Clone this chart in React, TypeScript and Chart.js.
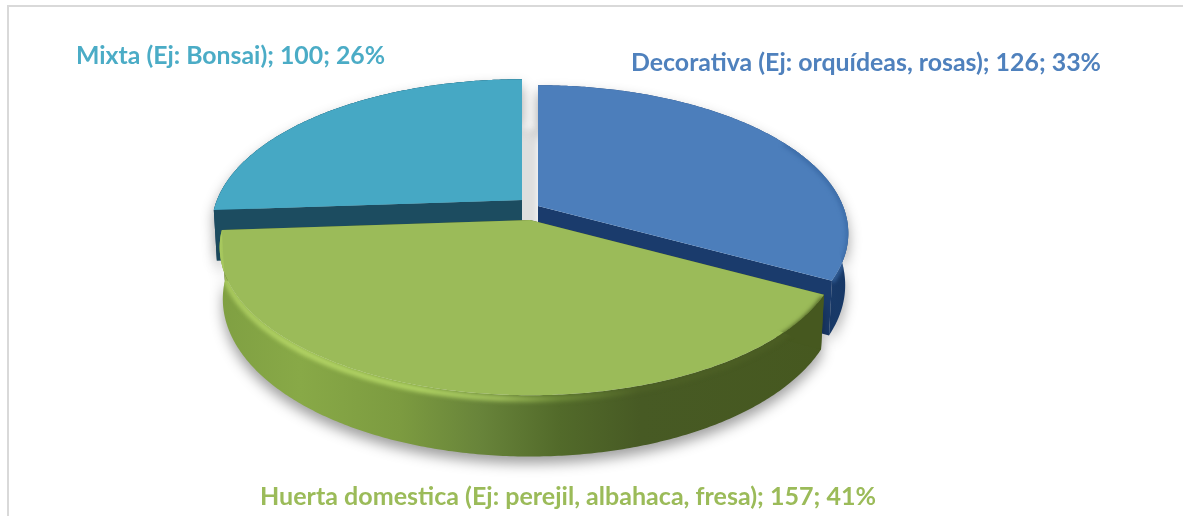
import React, { useEffect, useRef } from "react";
import { Chart, registerables } from "chart.js";

Chart.register(...registerables);

const categories = ["Decorativa (Ej: orquídeas, rosas)", "Huerta domestica (Ej: perejil, albahaca, fresa)", "Mixta (Ej: Bonsai)"];
const seriesValues = [126, 157, 100];
const sliceColors = ["#4c7ebb", "#9bbb59", "#46a8c4"];
const labelColors = ["#4f81bd", "#9bbb59", "#4bacc6"];

// layout of the tilted pie (not data)
const SHIFT: [number, number][] = [[-53.5, -52], [-61.5, -38], [-69.5, -58]];
const LABEL_BOX = [
  { x: 631, y: 63, w: 470 },
  { x: 260, y: 497, w: 616 },
  { x: 76, y: 56, w: 309 },
];
const K = 0.184;
const RX = 305 / 258;
const RY = 143 / 258;
const DEPTH = 50;
const DRAW_ORDER = [2, 0, 1];

const pie3d = {
  id: "pie3d",
  beforeDatasetsDraw(chart: any) {
    const ctx: CanvasRenderingContext2D = chart.ctx;
    const arcs = chart.getDatasetMeta(0).data;
    const proj = (i: number, a: number, r: number, d: number): [number, number] => {
      const arc = arcs[i];
      const X = r * Math.cos(a);
      const Y = r * Math.sin(a);
      const s = 1 / (1 - K * Y);
      return [
        arc.x + SHIFT[i][0] + arc.outerRadius * RX * X * s * (1 - d * 0.0002),
        arc.y + SHIFT[i][1] + arc.outerRadius * RY * Y * s + d * s,
      ];
    };
    const arcPts = (i: number, a0: number, a1: number, d: number) => {
      const n = Math.max(2, Math.ceil(Math.abs(a1 - a0) / 0.01));
      const pts: [number, number][] = [];
      for (let j = 0; j <= n; j++) pts.push(proj(i, a0 + ((a1 - a0) * j) / n, 1, d));
      return pts;
    };
    const poly = (pts: [number, number][]) => {
      ctx.beginPath();
      pts.forEach((p, j) => (j ? ctx.lineTo(p[0], p[1]) : ctx.moveTo(p[0], p[1])));
      ctx.closePath();
    };
    const line = (pts: [number, number][]) => {
      ctx.beginPath();
      pts.forEach((p, j) => (j ? ctx.lineTo(p[0], p[1]) : ctx.moveTo(p[0], p[1])));
    };
    const hGrad = (stops: [number, string][]) => {
      const g = ctx.createLinearGradient(215, 0, 850, 0);
      stops.forEach(([x, c]) => g.addColorStop((x - 215) / 635, c));
      return g;
    };
    const wallFill = [
      hGrad([[215, "#1a3f70"], [780, "#1d4277"], [850, "#173764"]]),
      hGrad([[215, "#7f9f42"], [300, "#88a947"], [400, "#7c9b40"], [480, "#68843a"], [560, "#526a2a"], [640, "#475a24"], [850, "#46581f"]]),
      hGrad([[215, "#163f62"], [230, "#1b4a5e"], [850, "#1b4a5e"]]),
    ];
    const cutFill = ["#1a3b6c", "#46581f", "#1c4c60"];

    ctx.save();
    for (const i of DRAW_ORDER) {
      const arc = arcs[i];
      const a0 = arc.startAngle;
      const a1 = arc.endAngle;
      const topEdge = arcPts(i, a0, a1, 0);
      const botEdge = arcPts(i, a0, a1, DEPTH).reverse();
      const apexT = proj(i, a0, 0, 0);
      const apexB = proj(i, a0, 0, DEPTH);

      // cast shadow of the back slice into the gap
      if (i === 2) {
        ctx.save();
        ctx.shadowColor = "rgba(0,0,0,0.13)";
        ctx.shadowBlur = 6;
        ctx.shadowOffsetX = 16;
        ctx.shadowOffsetY = 50;
        ctx.fillStyle = sliceColors[i];
        poly([apexT, ...topEdge]);
        ctx.fill();
        ctx.restore();
      }

      // outer wall, with a soft ground shadow
      ctx.save();
      ctx.shadowColor = "rgba(0,0,0,0.38)";
      ctx.shadowBlur = 13;
      ctx.shadowOffsetY = 7;
      ctx.fillStyle = wallFill[i];
      poly([...topEdge, ...botEdge]);
      ctx.fill();
      ctx.restore();

      // radial cut faces
      ctx.fillStyle = cutFill[i];
      poly([apexT, topEdge[0], botEdge[botEdge.length - 1], apexB]);
      ctx.fill();
      poly([apexT, topEdge[topEdge.length - 1], botEdge[0], apexB]);
      ctx.fill();

      // top face
      ctx.fillStyle = sliceColors[i];
      poly([apexT, ...topEdge]);
      ctx.fill();

      // bevel along the rim
      ctx.save();
      poly([apexT, ...topEdge, ...botEdge]);
      ctx.clip();
      ctx.filter = "blur(2px)";
      ctx.lineJoin = "round";
      if (i === 1) {
        const front = arcPts(i, a0, a1, 3);
        ctx.strokeStyle = hGrad([
          [215, "#aacb5f"], [300, "#b4d566"], [420, "#b2d565"], [500, "#a0c05b"], [560, "#6d8a38"], [640, "#4d6026"], [850, "#4a5c22"],
        ]);
        ctx.lineWidth = 6;
        line(front);
        ctx.stroke();
      } else if (i === 0) {
        ctx.strokeStyle = "#3a6aa5";
        ctx.lineWidth = 4;
        line(arcPts(i, -0.5, a1, 1));
        ctx.stroke();
      }
      ctx.restore();
    }
    ctx.restore();
    return false;
  },
  afterDraw(chart: any) {
    const ctx: CanvasRenderingContext2D = chart.ctx;
    const values: number[] = chart.data.datasets[0].data;
    const total = values.reduce((s, v) => s + v, 0);
    ctx.save();
    ctx.font = 'bold 25px Lato, "Open Sans", sans-serif';
    ctx.textBaseline = "middle";
    ctx.textAlign = "left";
    chart.data.labels.forEach((name: string, i: number) => {
      const text = `${name}; ${values[i]}; ${Math.round((values[i] / total) * 100)}%`;
      const box = LABEL_BOX[i];
      const w = ctx.measureText(text).width;
      ctx.save();
      ctx.translate(box.x, box.y);
      ctx.scale(box.w / w, 1);
      ctx.fillStyle = labelColors[i];
      ctx.fillText(text, 0, 0);
      ctx.restore();
    });
    ctx.restore();
  },
};

export default function App() {
  const ref = useRef<HTMLCanvasElement>(null);
  useEffect(() => {
    const chart = new Chart(ref.current!, {
      type: "pie",
      data: {
        labels: categories,
        datasets: [{ data: seriesValues, backgroundColor: sliceColors, borderWidth: 0 }],
      },
      options: {
        animation: false,
        responsive: false,
        maintainAspectRatio: false,
        plugins: { legend: { display: false }, tooltip: { enabled: false } },
      },
      plugins: [pie3d as any],
    });
    return () => chart.destroy();
  }, []);
  return (
    <div style={{ position: "fixed", left: 0, top: 0, width: 1183, height: 516, background: "#fff", overflow: "hidden" }}>
      <canvas ref={ref} width={1183} height={516} style={{ display: "block", filter: "blur(0.7px)" }} />
      <div style={{ position: "absolute", left: 7, top: 5, width: 1180, height: 2, background: "#d9d9d9" }} />
      <div style={{ position: "absolute", left: 7, top: 5, width: 2, height: 520, background: "#d9d9d9" }} />
    </div>
  );
}
